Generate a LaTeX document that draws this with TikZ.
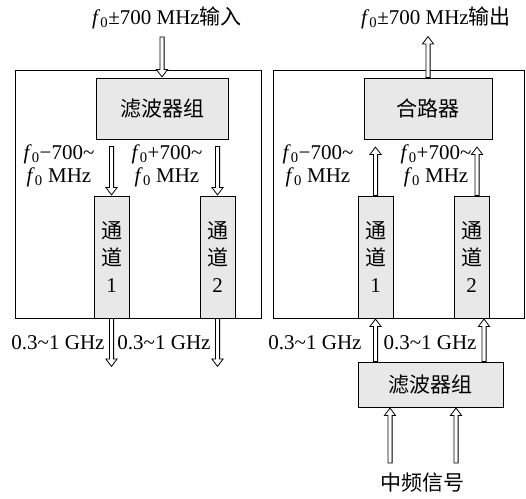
\documentclass[tikz,border=0pt]{standalone}
\usepackage{fontspec}
\setmainfont{Liberation Serif}
\newfontfamily\cjk{Noto Sans CJK SC}
\usetikzlibrary{calc,positioning}
\newcommand{\fz}{\textit{f}\textsubscript{0}}

\begin{document}
\begin{tikzpicture}[
  x=1pt,y=-1pt,
  font=\fontsize{21}{23}\selectfont,
  frame/.style={draw,line width=1pt,inner sep=0pt},
  block/.style={draw,line width=1pt,fill=gray!18,inner sep=0pt,font=\fontsize{21}{23}\selectfont\cjk},
  chan/.style={block,minimum width=35pt,minimum height=122pt,align=center,font=\fontsize{21}{27}\selectfont\cjk},
  sig/.style={draw,fill=white,line width=0.8pt,line join=miter,to path={
    let \p1=(\tikztostart), \p2=(\tikztotarget),
        \n1={atan2(\y2-\y1,\x2-\x1)}, \n2={veclen(\x2-\x1,\y2-\y1)}
    in [shift={(\p1)},rotate=\n1]
       (0pt,-2.1pt) -- ({\n2*1pt-8pt},-2.1pt) -- ({\n2*1pt-8pt},-5.6pt) -- ({\n2*1pt-0.6pt},0pt)
       -- ({\n2*1pt-8pt},5.6pt) -- ({\n2*1pt-8pt},2.1pt) -- (0pt,2.1pt) -- cycle}},
  lbl/.style={align=center,inner sep=0pt}
]
  \useasboundingbox (0,0) rectangle (526,498);

  % left: receive side
  \node[frame,minimum width=246pt,minimum height=248pt] (lbox) at (138,194) {};
  \node[block,minimum width=132pt,minimum height=61pt] (lfilt) at (162,108.5) {滤波器组};
  \node[chan] (lch1) at (111.5,257) {通\\道\\{\rmfamily 1}};
  \node[chan] (lch2) at (217.5,257) {通\\道\\{\rmfamily 2}};

  \node[lbl] (lin) at (167,18) {\fz±700 MHz{\cjk 输入}};
  \node[lbl] (llo) at (59,166) {\fz−700\textasciitilde\\\fz\ MHz};
  \node[lbl] (lhi) at (167,166) {\fz+700\textasciitilde\\\fz\ MHz};
  \node[lbl] (lif1) at (58,343) {0.3\textasciitilde1 GHz};
  \node[lbl] (lif2) at (164,343) {0.3\textasciitilde1 GHz};

  \coordinate (in) at (162,37);
  \coordinate (l1top) at ($(lfilt.south -| lch1)+(0,-7pt)$);
  \coordinate (l2top) at ($(lfilt.south -| lch2)+(0,-7pt)$);
  \coordinate (lout1) at (111.5,367);
  \coordinate (lout2) at (217.5,367);

  \draw[sig] (in) to (lfilt.north);
  \draw[sig] (l1top) to (lch1.north);
  \draw[sig] (l2top) to (lch2.north);
  \draw[sig] (lch1.south) to (lout1);
  \draw[sig] (lch2.south) to (lout2);

  % right: transmit side
  \node[frame,minimum width=251pt,minimum height=248pt] (rbox) at (398.5,194) {};
  \node[block,minimum width=128pt,minimum height=61pt] (comb) at (428,108.5) {合路器};
  \node[chan] (rch1) at (375.5,257) {通\\道\\{\rmfamily 1}};
  \node[chan] (rch2) at (471.5,257) {通\\道\\{\rmfamily 2}};
  \node[block,minimum width=145pt,minimum height=45pt] (bfilt) at (430.5,384.5) {滤波器组};

  \node[lbl] (rout) at (436,18) {\fz±700 MHz{\cjk 输出}};
  \node[lbl] (rlo) at (318,166) {\fz−700\textasciitilde\\\fz\ MHz};
  \node[lbl] (rhi) at (436,166) {\fz+700\textasciitilde\\\fz\ MHz};
  \node[lbl] (rif1) at (315,343) {0.3\textasciitilde1 GHz};
  \node[lbl] (rif2) at (430,343) {0.3\textasciitilde1 GHz};
  \node[lbl,font=\fontsize{21}{23}\selectfont\cjk] (ifin) at (422,483) {中频信号};

  \coordinate (out) at (428,36);
  \coordinate (r2top) at ([xshift=5.5pt]rch2.north);
  \coordinate (r2bot) at ([xshift=12.5pt]rch2.south);
  \coordinate (r1end) at ($(rch1 |- comb.south)+(0,-7pt)$);
  \coordinate (r2end) at ($(r2top |- comb.south)+(0,-7pt)$);
  \coordinate (b1) at (rch1 |- bfilt.north);
  \coordinate (b2) at (r2bot |- bfilt.north);
  \coordinate (if1) at (390,463);
  \coordinate (if2) at (456,463);

  \draw[sig] (comb.north) to (out);
  \draw[sig] (rch1.north) to (r1end);
  \draw[sig] (r2top) to (r2end);
  \draw[sig] (b1) to (rch1.south);
  \draw[sig] (b2) to (r2bot);
  \draw[sig] (if1) to (if1 |- bfilt.south);
  \draw[sig] (if2) to (if2 |- bfilt.south);
\end{tikzpicture}
\end{document}
